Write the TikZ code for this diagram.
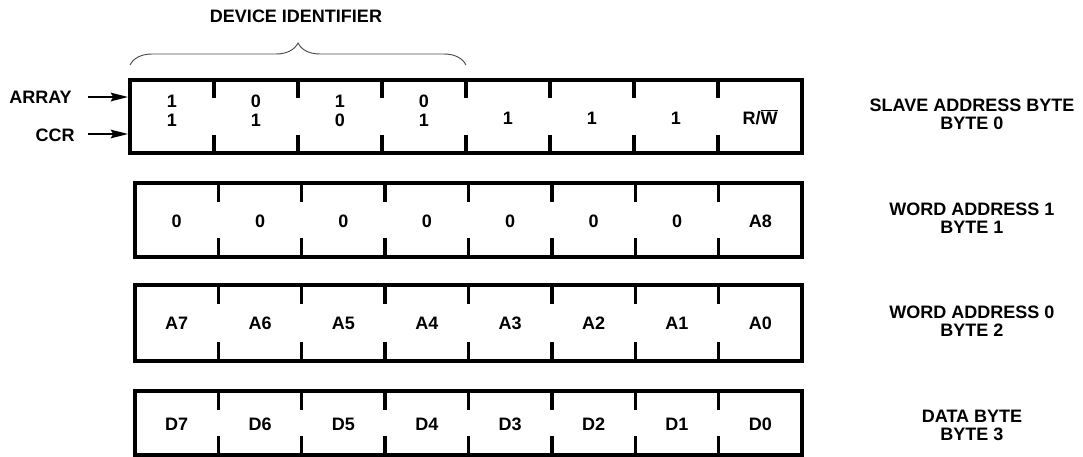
\documentclass[tikz,border=0pt]{standalone}
\usepackage{fontspec}
\setmainfont{Liberation Sans}
\usepackage{tikz}
\usetikzlibrary{arrows.meta,positioning,decorations.pathreplacing}

\tikzset{
  bits/.style={font=\fontsize{13.5}{16}\selectfont\bfseries,inner sep=0pt},
  rotulo/.style={font=\fontsize{13.5}{13.5}\selectfont\bfseries,align=center,inner sep=0pt},
  caja/.style={line width=2.5pt,line join=miter},
  marca/.style={line width=2.5pt},
  flecha/.style={line width=1.2pt,-{Stealth[length=13pt,width=6.5pt,inset=2pt]}}
}

\begin{document}
\begin{tikzpicture}[x=0.75pt,y=-0.75pt]
\useasboundingbox (0,0) rectangle (1083,457);

% Cajas de bytes
\draw[caja] (130,80) rectangle (802,153);
\draw[caja] (135,183) rectangle (802,257);
\draw[caja] (135,285) rectangle (802,361);
\draw[caja] (135,391) rectangle (802,455);

% Marcas de separación
\foreach \i in {1,...,7}
  {\draw[marca] (130+84*\i,80) -- ++(0,18);
   \draw[marca] (130+84*\i,153) -- ++(0,-18);}
\foreach \yt/\yb in {183/257,285/361,391/455}
  \foreach \i in {1,...,7}
    {\draw[marca] (135+83.375*\i,\yt) -- ++(0,19);
     \draw[marca] (135+83.375*\i,\yb) -- ++(0,-19);}

% Byte 0
\node[bits,align=center] (b07) at (172,111) {1\\[-2pt]1};
\node[bits,align=center] (b06) at (256,111) {0\\[-2pt]1};
\node[bits,align=center] (b05) at (340,111) {1\\[-2pt]0};
\node[bits,align=center] (b04) at (424,111) {0\\[-2pt]1};
\node[bits] (b03) at (508,118) {1};
\node[bits] (b02) at (592,118) {1};
\node[bits] (b01) at (676,118) {1};
\node[bits] (b00) at (760,117) {R/$\overline{\mbox{W}}$};

% Byte 1
\node[bits] (b17) at (176.7,221) {0};
\node[bits] (b16) at (260.1,221) {0};
\node[bits] (b15) at (343.4,221) {0};
\node[bits] (b14) at (426.8,221) {0};
\node[bits] (b13) at (510.2,221) {0};
\node[bits] (b12) at (593.6,221) {0};
\node[bits] (b11) at (677.0,221) {0};
\node[bits] (b10) at (760.3,221) {A8};

% Byte 2
\node[bits] (b27) at (176.7,323) {A7};
\node[bits] (b26) at (260.1,323) {A6};
\node[bits] (b25) at (343.4,323) {A5};
\node[bits] (b24) at (426.8,323) {A4};
\node[bits] (b23) at (510.2,323) {A3};
\node[bits] (b22) at (593.6,323) {A2};
\node[bits] (b21) at (677.0,323) {A1};
\node[bits] (b20) at (760.3,323) {A0};

% Byte 3
\node[bits] (b37) at (176.7,424) {D7};
\node[bits] (b36) at (260.1,424) {D6};
\node[bits] (b35) at (343.4,424) {D5};
\node[bits] (b34) at (426.8,424) {D4};
\node[bits] (b33) at (510.2,424) {D3};
\node[bits] (b32) at (593.6,424) {D2};
\node[bits] (b31) at (677.0,424) {D1};
\node[bits] (b30) at (760.3,424) {D0};

% Identificador
\draw[gray!60!black,line width=0.7pt,decorate,decoration={brace,amplitude=16.5pt}]
  (130,65) -- (466,65);
\node[rotulo] (ident) at (296,16) {DEVICE IDENTIFIER};

% Entradas
\node[rotulo,anchor=east] (array) at (72,97) {ARRAY};
\node[rotulo,anchor=east] (ccr) at (75,135) {CCR};
\coordinate (entA) at (128,97);
\coordinate (entC) at (128,134);
\draw[flecha] (88,97) -- (entA);
\draw[flecha] (88,134) -- (entC);

% Rótulos de byte
\node[rotulo] (r0) at (972,114) {SLAVE ADDRESS BYTE\\BYTE 0};
\node[rotulo] (r1) at (972,218) {WORD ADDRESS 1\\BYTE 1};
\node[rotulo] (r2) at (972,321) {WORD ADDRESS 0\\BYTE 2};
\node[rotulo] (r3) at (972,425) {DATA BYTE\\BYTE 3};

\end{tikzpicture}
\end{document}
